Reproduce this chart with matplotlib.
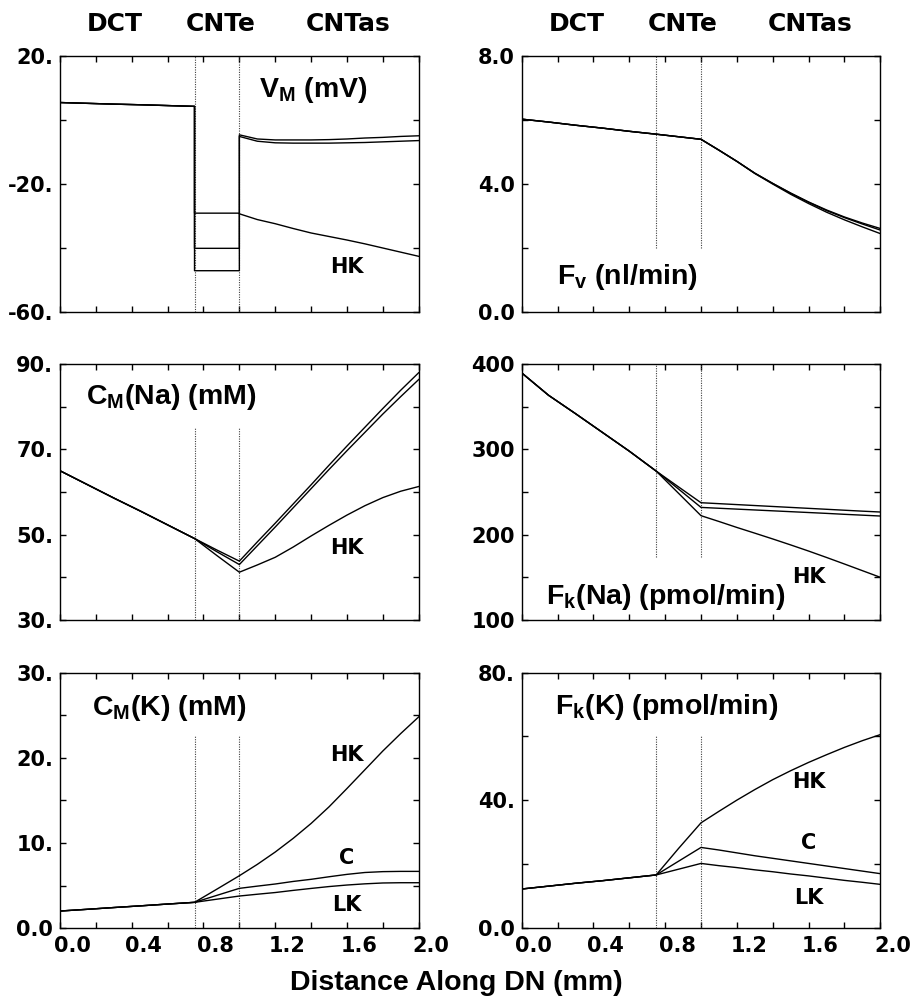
import numpy as np
import matplotlib.pyplot as plt
from matplotlib import transforms

plt.rcParams['font.family'] = ['DejaVu Sans']
plt.rcParams['font.weight'] = 'bold'
plt.rcParams['mathtext.fontset'] = 'custom'
plt.rcParams['mathtext.rm'] = 'Liberation Sans:bold'
plt.rcParams['mathtext.it'] = 'Liberation Sans:bold'
plt.rcParams['mathtext.bf'] = 'Liberation Sans:bold'

# distance along DN (mm), segment ends repeated so jumps become vertical steps
x_dct = [0.0, 0.15, 0.3, 0.45, 0.6, 0.75]
x_cnte = [0.75, 0.875, 1.0]
x_cntas = [1.0, 1.1, 1.2, 1.3, 1.4, 1.5, 1.6, 1.7, 1.8, 1.9, 2.0]
x_all = x_dct + x_cnte + x_cntas
bounds = [0.75, 1.0]
segments = ["DCT", "CNTe", "CNTas"]
segment_x = [0.307, 0.898, 1.607]
xtick_vals = [0.0, 0.4, 0.8, 1.2, 1.6, 2.0]
xtick_labels = ["0.0", "0.4", "0.8", "1.2", "1.6", "2.0"]

# V_M (mV)
vm_dct = [5.6, 5.35, 5.1, 4.9, 4.65, 4.4]
vm_c = vm_dct + [-40.0, -40.0, -40.0] + [-4.5, -5.8, -6.1, -6.1, -6.1, -6.0, -5.8, -5.5, -5.3, -5.0, -4.8]
vm_lk = vm_dct + [-47.0, -47.0, -47.0] + [-5.0, -6.5, -7.0, -7.1, -7.1, -7.1, -7.0, -6.9, -6.7, -6.5, -6.3]
vm_hk = vm_dct + [-29.0, -29.0, -29.0] + [-29.2, -31.0, -32.3, -33.8, -35.2, -36.3, -37.4, -38.6, -39.9, -41.2, -42.5]

# F_v (nl/min)
fv_dct = [6.04, 5.95, 5.85, 5.76, 5.66, 5.57]
fv_cnte = [5.57, 5.49, 5.41]
fv_c = fv_dct + fv_cnte + [5.41, 5.07, 4.72, 4.35, 4.03, 3.73, 3.45, 3.20, 2.98, 2.79, 2.62]
fv_lk = fv_dct + fv_cnte + [5.41, 5.07, 4.72, 4.35, 4.03, 3.72, 3.44, 3.18, 2.96, 2.76, 2.57]
fv_hk = fv_dct + fv_cnte + [5.41, 5.07, 4.72, 4.34, 4.01, 3.69, 3.40, 3.13, 2.89, 2.67, 2.46]

# C_M(Na) (mM)
cna_dct = [65.0, 61.8, 58.6, 55.5, 52.3, 49.1]
cna_c = cna_dct + [49.1, 46.4, 43.8] + [43.8, 48.3, 52.7, 57.2, 61.7, 66.3, 70.8, 75.2, 79.6, 83.9, 88.0]
cna_lk = cna_dct + [49.1, 46.0, 43.0] + [43.0, 47.4, 51.8, 56.3, 60.8, 65.3, 69.7, 74.0, 78.3, 82.4, 86.4]
cna_hk = cna_dct + [49.1, 45.1, 41.2] + [41.2, 42.9, 44.7, 47.1, 49.7, 52.2, 54.6, 56.8, 58.7, 60.2, 61.3]

# F_k(Na) (pmol/min)
fna_dct = [389.8, 363.5, 342.0, 320.0, 298.0, 274.6]
fna_c = fna_dct + [274.6, 256.0, 237.5] + [237.5, 236.4, 235.3, 234.2, 233.1, 232.0, 230.9, 229.8, 228.7, 227.6, 226.6]
fna_lk = fna_dct + [274.6, 253.5, 232.0] + [232.0, 231.0, 230.0, 229.0, 228.0, 227.0, 226.0, 225.0, 223.9, 222.9, 221.9]
fna_hk = fna_dct + [274.6, 248.5, 222.3] + [222.3, 215.5, 208.5, 201.8, 195.0, 188.0, 180.8, 173.3, 165.6, 157.8, 150.0]

# C_M(K) (mM)
ck_dct = [2.03, 2.23, 2.44, 2.64, 2.85, 3.05]
ck_c = ck_dct + [3.05, 3.87, 4.69] + [4.69, 4.95, 5.2, 5.5, 5.75, 6.05, 6.33, 6.55, 6.65, 6.68, 6.68]
ck_lk = ck_dct + [3.05, 3.42, 3.79] + [3.79, 4.0, 4.2, 4.45, 4.68, 4.9, 5.08, 5.22, 5.32, 5.35, 5.35]
ck_hk = ck_dct + [3.05, 4.6, 6.17] + [6.17, 7.5, 8.95, 10.55, 12.3, 14.25, 16.4, 18.6, 20.8, 22.85, 24.8]

# F_k(K) (pmol/min)
fk_dct = [12.3, 13.2, 14.1, 14.9, 15.8, 16.7]
fk_c = fk_dct + [16.7, 21.0, 25.3] + [25.3, 24.5, 23.6, 22.7, 21.9, 21.1, 20.3, 19.5, 18.7, 17.9, 17.1]
fk_lk = fk_dct + [16.7, 18.5, 20.3] + [20.3, 19.6, 19.0, 18.3, 17.7, 17.0, 16.4, 15.7, 15.0, 14.4, 13.75]
fk_hk = fk_dct + [16.7, 25.0, 33.0] + [33.0, 36.6, 40.1, 43.4, 46.5, 49.3, 51.9, 54.3, 56.6, 58.7, 60.6]

fig = plt.figure(figsize=(9.12, 9.98), dpi=100)

left_x = [0.0658, 0.572]
row_y = [0.6871, 0.3788, 0.0698]
w, h = 0.3933, 0.2563
TICK_FS = 15
NOTE_FS = 20.5
TAG_FS = 15
NOTE_FONT = 'Liberation Sans'


def make_axes(col, row, ylim, yticks, ylabels, div_range, xlabels=False):
    ax = fig.add_axes([left_x[col], row_y[row], w, h])
    ax.set_xlim(0, 2.0)
    ax.set_ylim(*ylim)
    ax.set_xticks(np.arange(0, 2.01, 0.2))
    ax.set_xticklabels([])
    if xlabels:
        # labels sit a little right of their ticks in the original
        shift = transforms.ScaledTranslation(0.12, -0.08, fig.dpi_scale_trans)
        for v, lab in zip(xtick_vals, xtick_labels):
            ax.text(v, 0, lab, fontsize=TICK_FS, ha='center', va='top',
                    transform=ax.get_xaxis_transform() + shift)
    ax.set_yticks(yticks)
    ax.set_yticklabels(ylabels)
    ax.tick_params(direction='in', top=True, right=True, length=4, width=1,
                   labelsize=TICK_FS, pad=5)
    for s in ax.spines.values():
        s.set_linewidth(1.0)
    for b in bounds:
        ax.plot([b, b], div_range, color='0.25', lw=0.8, ls=(0, (1, 1.2)))
    return ax


def draw(ax, series):
    for ys in series:
        ax.plot(x_all, ys, color='k', lw=1.0)


def note(ax, x, y, s):
    ax.text(x, y, s, fontsize=NOTE_FS, family=NOTE_FONT, ha='center', va='center')


ax1 = make_axes(0, 0, (-60, 20), [-60, -40, -20, 0, 20], ["-60.", "", "-20.", "", "20."], (-60, 20))
draw(ax1, [vm_c, vm_lk, vm_hk])
note(ax1, 1.41, 9.6, r"V$_{\mathrm{M}}$ (mV)")
ax1.text(1.6, -45.8, "HK", fontsize=TAG_FS, ha='center', va='center')

ax2 = make_axes(1, 0, (0, 8), [0, 2, 4, 6, 8], ["0.0", "", "4.0", "", "8.0"], (2.0, 8))
draw(ax2, [fv_c, fv_lk, fv_hk])
note(ax2, 0.59, 1.1, r"F$_{\mathrm{v}}$ (nl/min)")

for ax in (ax1, ax2):
    for name, xs in zip(segments, segment_x):
        ax.text(xs, 1.128, name, fontsize=18, ha='center', va='center',
                transform=ax.get_xaxis_transform())

ax3 = make_axes(0, 1, (30, 90), [30, 40, 50, 60, 70, 80, 90],
                ["30.", "", "50.", "", "70.", "", "90."], (30, 75.3))
draw(ax3, [cna_c, cna_lk, cna_hk])
note(ax3, 0.62, 82.3, r"C$_{\mathrm{M}}$(Na) (mM)")
ax3.text(1.6, 46.9, "HK", fontsize=TAG_FS, ha='center', va='center')

ax4 = make_axes(1, 1, (100, 400), [100, 150, 200, 250, 300, 350, 400],
                ["100", "", "200", "", "300", "", "400"], (174, 400))
draw(ax4, [fna_c, fna_lk, fna_hk])
note(ax4, 0.80, 127, r"F$_{\mathrm{k}}$(Na) (pmol/min)")
ax4.text(1.6, 150, "HK", fontsize=TAG_FS, ha='center', va='center')

ax5 = make_axes(0, 2, (0, 30), [0, 5, 10, 15, 20, 25, 30],
                ["0.0", "", "10.", "", "20.", "", "30."], (0, 22.6), xlabels=True)
draw(ax5, [ck_c, ck_lk, ck_hk])
note(ax5, 0.61, 25.8, r"C$_{\mathrm{M}}$(K) (mM)")
ax5.text(1.6, 20.3, "HK", fontsize=TAG_FS, ha='center', va='center')
ax5.text(1.6, 8.2, "C", fontsize=TAG_FS, ha='center', va='center')
ax5.text(1.6, 2.7, "LK", fontsize=TAG_FS, ha='center', va='center')

ax6 = make_axes(1, 2, (0, 80), [0, 20, 40, 60, 80], ["0.0", "", "40.", "", "80."],
                (0, 60.4), xlabels=True)
draw(ax6, [fk_c, fk_lk, fk_hk])
note(ax6, 0.81, 69.2, r"F$_{\mathrm{k}}$(K) (pmol/min)")
ax6.text(1.6, 45.8, "HK", fontsize=TAG_FS, ha='center', va='center')
ax6.text(1.6, 26.7, "C", fontsize=TAG_FS, ha='center', va='center')
ax6.text(1.6, 9.5, "LK", fontsize=TAG_FS, ha='center', va='center')

fig.text(0.4998, 0.0155, "Distance Along DN (mm)", fontsize=20.5, family=NOTE_FONT,
         ha='center', va='center')

fig.savefig("out.png", dpi=100)
